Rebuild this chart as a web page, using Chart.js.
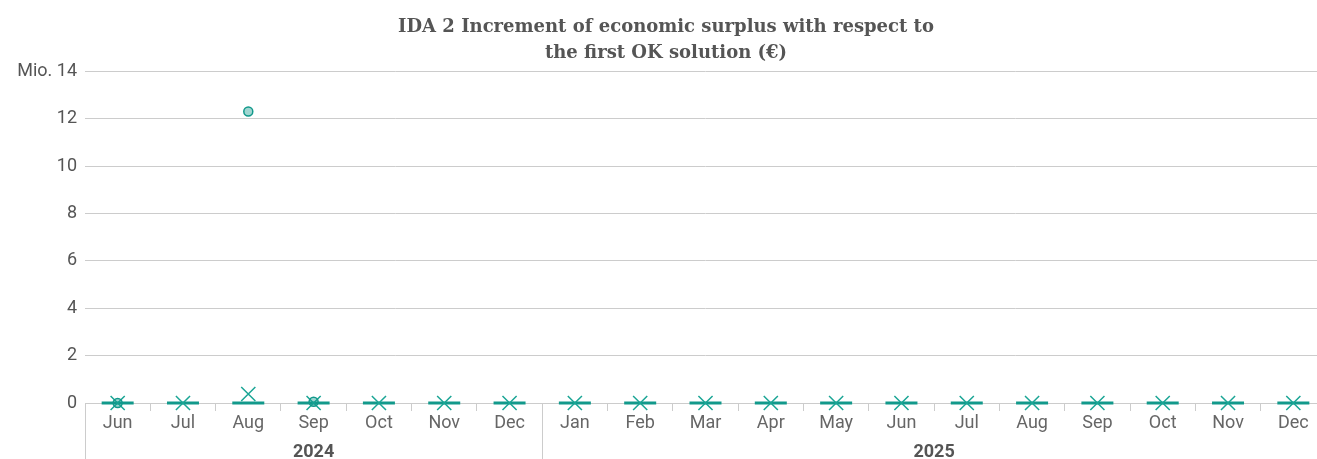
<!DOCTYPE html>
<html>
<head>
<meta charset="utf-8">
<script src="https://cdn.jsdelivr.net/npm/chart.js@4.4.1/dist/chart.umd.min.js"></script>
<style>
    html, body { margin: 0; padding: 0; background: #ffffff; overflow: hidden; }
    #surplusChart { display: block; }
</style>
</head>
<body>
<canvas id="surplusChart" width="1345" height="459"></canvas>
<script>
var months = ['Jun', 'Jul', 'Aug', 'Sep', 'Oct', 'Nov', 'Dec',
    'Jan', 'Feb', 'Mar', 'Apr', 'May', 'Jun', 'Jul', 'Aug', 'Sep', 'Oct', 'Nov', 'Dec'];
var years = ['2024', '2025'];
var yearMonths = [7, 12];

// values in millions of euro
var baseline = [0, 0, 0, 0, 0, 0, 0, 0, 0, 0, 0, 0, 0, 0, 0, 0, 0, 0, 0];
var crossValues = [0, 0, 0.38, 0, 0, 0, 0, 0, 0, 0, 0, 0, 0, 0, 0, 0, 0, 0, 0];
var circleValues = [0, null, 12.3, 0.05, null, null, null, null, null, null,
    null, null, null, null, null, null, null, null, null];
var yTicks = [0, 2, 4, 6, 8, 10, 12, 14];

var TEAL = '#12998b';

var yearGroups = {
    id: 'yearGroups',
    afterDraw: function(chart) {
        var ctx = chart.ctx;
        var x = chart.scales.x;
        var area = chart.chartArea;
        var step = x.getPixelForValue(1) - x.getPixelForValue(0);
        var start = 0;
        ctx.save();
        ctx.strokeStyle = '#cccccc';
        ctx.lineWidth = 1;
        ctx.fillStyle = '#555555';
        ctx.font = 'bold 18px Roboto';
        ctx.textAlign = 'center';
        ctx.textBaseline = 'middle';
        years.forEach(function(year, i) {
            var left = x.getPixelForValue(start) - step / 2;
            var right = x.getPixelForValue(start + yearMonths[i] - 1) + step / 2;
            ctx.beginPath();
            ctx.moveTo(Math.round(left) + 0.5, area.bottom);
            ctx.lineTo(Math.round(left) + 0.5, chart.height);
            ctx.stroke();
            ctx.fillText(year, (left + right) / 2, area.bottom + 49);
            start += yearMonths[i];
        });
        ctx.restore();
    }
};

new Chart(document.getElementById('surplusChart').getContext('2d'), {
    type: 'line',
    data: {
        labels: months,
        datasets: [{
            label: 'circle',
            data: circleValues,
            showLine: false,
            pointStyle: 'circle',
            pointRadius: 4.5,
            pointBackgroundColor: 'rgba(18, 153, 139, 0.4)',
            pointBorderColor: TEAL,
            pointBorderWidth: 1.5,
            clip: false,
            order: 1
        }, {
            label: 'cross',
            data: crossValues,
            showLine: false,
            pointStyle: 'crossRot',
            pointRadius: 10,
            pointBorderColor: '#1aa595',
            pointBorderWidth: 1.5,
            clip: false,
            order: 2
        }, {
            label: 'baseline',
            data: baseline,
            showLine: false,
            pointStyle: 'line',
            pointRadius: 16,
            pointBorderColor: TEAL,
            pointBorderWidth: 3,
            clip: false,
            order: 3
        }]
    },
    options: {
        responsive: false,
        animation: false,
        layout: { padding: { left: 0, right: 13, top: 0, bottom: 0 } },
        plugins: {
            legend: { display: false },
            tooltip: { enabled: false },
            title: {
                display: true,
                text: ['IDA 2 Increment of economic surplus with respect to',
                    'the first OK solution (€)'],
                color: '#555555',
                font: { family: 'DejaVu Serif', size: 18, weight: 'bold', lineHeight: 1.45 },
                padding: { top: 14, bottom: 5 }
            }
        },
        scales: {
            x: {
                offset: true,
                grid: {
                    offset: true,
                    drawOnChartArea: false,
                    drawTicks: true,
                    tickLength: 8,
                    color: '#cccccc'
                },
                border: { display: true, color: '#cccccc' },
                ticks: {
                    color: '#666666',
                    font: { family: 'Roboto', size: 18 },
                    padding: 2,
                    maxRotation: 0,
                    autoSkip: false
                },
                afterFit: function(scale) { scale.height = 56; }
            },
            y: {
                min: 0,
                max: 14,
                afterBuildTicks: function(scale) {
                    scale.ticks = yTicks.map(function(v) { return { value: v }; });
                },
                afterFit: function(scale) { scale.width = 85; },
                grid: {
                    color: '#cccccc',
                    drawTicks: false
                },
                border: { display: false },
                ticks: {
                    color: '#555555',
                    font: { family: 'Roboto', size: 18 },
                    padding: 8,
                    callback: function(value) {
                        return value === 14 ? 'Mio. 14' : value;
                    }
                }
            }
        }
    },
    plugins: [yearGroups]
});
</script>
</body>
</html>
